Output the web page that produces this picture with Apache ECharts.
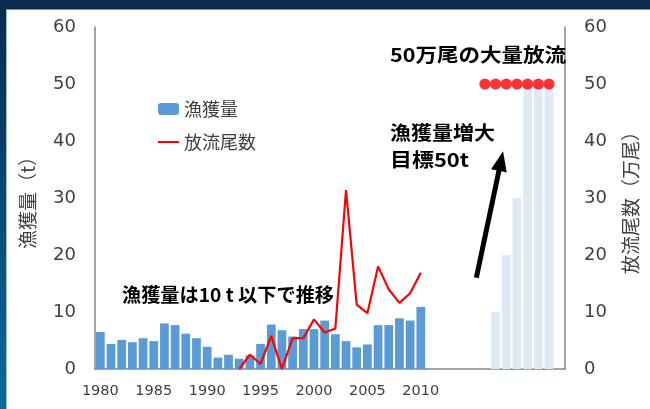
<!DOCTYPE html>
<html>
<head>
<meta charset="utf-8">
<script src="https://cdn.jsdelivr.net/npm/echarts@6/dist/echarts.min.js"></script>
<style>
  html, body { margin: 0; padding: 0; background: #ffffff; }
  #chart { width: 650px; height: 409px; }
</style>
</head>
<body>
<div id="chart"></div>
<script>
// Category slots along the bottom axis (one per year)
const years = ['1980','1981','1982','1983','1984','1985','1986','1987','1988','1989',
  '1990','1991','1992','1993','1994','1995','1996','1997','1998','1999',
  '2000','2001','2002','2003','2004','2005','2006','2007','2008','2009',
  '2010','2011','2012','2013','2014','2015','2016','2017','2018','2019',
  '2020','2021','2022','2023'];
// Years that get a printed tick label
const tickLabels = ['1980','1985','1990','1995','2000','2005','2010'];

// Catch (t), 1980-2010
const catchYears = ['1980','1981','1982','1983','1984','1985','1986','1987','1988','1989',
  '1990','1991','1992','1993','1994','1995','1996','1997','1998','1999',
  '2000','2001','2002','2003','2004','2005','2006','2007','2008','2009','2010'];
const catchTons = [6.5, 4.4, 5.1, 4.7, 5.4, 4.9, 8.0, 7.7, 6.2, 5.4,
  3.9, 2.0, 2.5, 1.8, 2.4, 4.4, 7.8, 6.8, 5.7, 7.0,
  7.0, 8.5, 6.1, 4.9, 3.8, 4.3, 7.7, 7.7, 8.9, 8.5, 10.9];

// Fry released (10,000 fish), 1993-2010
const releaseYears = ['1993','1994','1995','1996','1997','1998','1999','2000','2001',
  '2002','2003','2004','2005','2006','2007','2008','2009','2010'];
const releaseCount = [0, 2.5, 0.9, 5.8, 0, 5.4, 5.4, 8.7, 6.4,
  7.1, 31.4, 11.3, 9.8, 18.0, 14.0, 11.6, 13.3, 16.9];

// Catch goal (t), ramping up
const goalYears = ['2017','2018','2019','2020','2021','2022'];
const goalTons = [10, 20, 30, 50, 50, 50];

// Planned mass release (10,000 fish)
const planYears = ['2016','2017','2018','2019','2020','2021','2022'];
const planCount = [50, 50, 50, 50, 50, 50, 50];

function spread(keys, vals) {
  return years.map(y => {
    const i = keys.indexOf(y);
    return i < 0 ? null : vals[i];
  });
}

const TEXT = '#404040';
const AXIS = '#878787';
const NUM_FONT = 'DejaVu Sans';
const JP_FONT = '"Noto Sans CJK JP", "Noto Sans", sans-serif';

const chart = echarts.init(document.getElementById('chart'), null, { renderer: 'canvas' });

const valueAxis = (pos, name, gap) => ({
  type: 'value',
  position: pos,
  min: 0, max: 60, interval: 10,
  name: name,
  nameLocation: 'middle',
  nameGap: gap,
  nameRotate: 90,
  nameTextStyle: { color: TEXT, fontSize: 19, fontFamily: JP_FONT },
  axisLine: { show: true, lineStyle: { color: AXIS, width: 1.5 } },
  axisTick: { show: false },
  splitLine: { show: false },
  axisLabel: { color: TEXT, fontSize: 18, fontFamily: NUM_FONT, margin: 19 }
});

chart.setOption({
  animation: false,
  backgroundColor: '#ffffff',
  grid: { left: 95, right: 85, top: 27, bottom: 40 },
  legend: {
    data: ['漁獲量', { name: '放流尾数', itemStyle: { opacity: 0 } }],
    orient: 'vertical',
    left: 152, top: 95,
    itemWidth: 21, itemHeight: 12, itemGap: 15,
    textStyle: { color: TEXT, fontSize: 18, fontFamily: JP_FONT }
  },
  xAxis: {
    type: 'category',
    data: years,
    boundaryGap: true,
    axisLine: { lineStyle: { color: AXIS, width: 1.5 } },
    axisTick: { show: false },
    axisLabel: {
      interval: 0,
      color: TEXT, fontSize: 14.5, fontFamily: NUM_FONT, margin: 15,
      formatter: v => (tickLabels.indexOf(v) >= 0 ? v : '')
    }
  },
  yAxis: [
    valueAxis('left', '漁獲量（t）', 58),
    valueAxis('right', '放流尾数（万尾）', 56)
  ],
  series: [
    {
      name: '漁獲量', type: 'bar', stack: 'catch',
      data: spread(catchYears, catchTons),
      barCategoryGap: '18%',
      itemStyle: { color: '#5B9BD5' }
    },
    {
      name: '目標', type: 'bar', stack: 'catch',
      data: spread(goalYears, goalTons),
      itemStyle: { color: '#DDEAF6' }
    },
    {
      name: '放流尾数', type: 'line', yAxisIndex: 1,
      data: spread(releaseYears, releaseCount),
      symbol: 'none',
      connectNulls: false,
      lineStyle: { color: '#FF0000', width: 2.2 },
      itemStyle: { color: '#FF0000' }
    },
    {
      name: '放流計画', type: 'scatter', yAxisIndex: 1,
      data: spread(planYears, planCount),
      symbol: 'circle', symbolSize: 11.2,
      itemStyle: { color: '#FF0000' },
      z: 5
    }
  ]
});

// Horizontal stretch factor so a bold caption spans a given width
const meas = document.createElement('canvas').getContext('2d');
function fitScale(text, size, width) {
  meas.font = 'bold ' + size + 'px ' + JP_FONT;
  return width / meas.measureText(text).width;
}
function caption(text, x, y, size, width) {
  return {
    type: 'text', x: x, y: y, scaleX: fitScale(text, size, width), originX: 0, originY: 0,
    z: 10,
    style: {
      text: text, fill: '#000000',
      font: 'bold ' + size + 'px ' + JP_FONT,
      align: 'left', verticalAlign: 'middle'
    }
  };
}

// Point in data space -> pixel, allowing fractional category positions
function px(cat, val) {
  const a = chart.convertToPixel({ xAxisIndex: 0, yAxisIndex: 0 }, [0, val]);
  const b = chart.convertToPixel({ xAxisIndex: 0, yAxisIndex: 0 }, [1, val]);
  return [a[0] + (b[0] - a[0]) * cat, a[1]];
}

// Thick upward arrow toward the catch goal
function arrowShape(s, t, shaft, headW, headL) {
  const dx = t[0] - s[0], dy = t[1] - s[1];
  const len = Math.hypot(dx, dy);
  const ux = dx / len, uy = dy / len;
  const nx = -uy, ny = ux;
  const bx = t[0] - ux * headL, by = t[1] - uy * headL;
  const p = (x, y, k) => [x + nx * k, y + ny * k];
  return [
    p(s[0], s[1], shaft / 2), p(bx, by, shaft / 2), p(bx, by, headW / 2),
    [t[0], t[1]],
    p(bx, by, -headW / 2), p(bx, by, -shaft / 2), p(s[0], s[1], -shaft / 2)
  ];
}

const arrowFrom = px(35.2, 16);
const arrowTo = px(37.7, 38.2);

chart.setOption({
  graphic: [
    // slide frame: dark band on top, gradient strip on the left
    { type: 'rect', shape: { x: 0, y: 0, width: 650, height: 9 }, style: { fill: '#0b2a4e' }, z: 0 },
    { type: 'rect', shape: { x: 0, y: 9, width: 650, height: 1 }, style: { fill: '#7a90aa' }, z: 0 },
    {
      type: 'rect', shape: { x: 0, y: 0, width: 6, height: 409 }, z: 0,
      style: { fill: new echarts.graphic.LinearGradient(0, 0, 0, 1, [
        { offset: 0, color: '#0b2a4e' }, { offset: 1, color: '#0a6a9c' }]) }
    },
    { type: 'rect', shape: { x: 6, y: 10, width: 1, height: 399 }, style: { fill: '#5a8fb8', opacity: 0.6 }, z: 0 },

    caption('50万尾の大量放流', 390, 55, 19, 176),
    caption('漁獲量増大', 390, 133, 19, 105),
    caption('目標50t', 390, 160, 19, 79),
    caption('漁獲量は10 t 以下で推移', 122, 295, 19, 212),

    {
      type: 'polygon', z: 10,
      shape: { points: arrowShape(arrowFrom, arrowTo, 5, 16, 20) },
      style: { fill: '#000000' }
    }
  ]
});
</script>
</body>
</html>
